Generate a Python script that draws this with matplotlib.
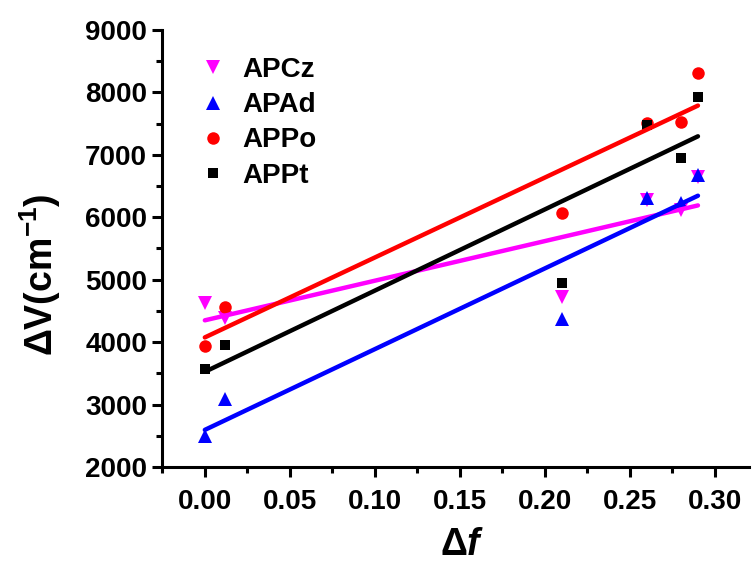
import matplotlib
matplotlib.use('Agg')
import matplotlib.pyplot as plt
import numpy as np
from matplotlib.ticker import MultipleLocator, FormatStrFormatter

plt.rcParams['font.family'] = 'Liberation Sans'
plt.rcParams['font.weight'] = 'bold'
plt.rcParams['mathtext.fontset'] = 'custom'
plt.rcParams['mathtext.rm'] = 'Liberation Sans:bold'
plt.rcParams['mathtext.bf'] = 'Liberation Sans:bold'
plt.rcParams['mathtext.it'] = 'Liberation Sans:bold:italic'

# data
delta_f = [0.0, 0.012, 0.21, 0.26, 0.28, 0.29]
apcz = [4620, 4387, 4730, 6270, 6117, 6645]
apad = [2490, 3090, 4370, 6310, 6230, 6680]
appo = [3940, 4563, 6069, 7510, 7526, 8311]
appt = [3570, 3955, 4947, 7480, 6950, 7926]

series = [
    ("APCz", apcz, 'v', '#ff00ff', 10),
    ("APAd", apad, '^', '#0000ff', 10),
    ("APPo", appo, 'o', '#ff0000', 9),
    ("APPt", appt, 's', 'black', 7.5),
]

fig = plt.figure(figsize=(7.55, 5.64), dpi=100)
ax = fig.add_axes([0.215, 0.172, 0.777, 0.775])

x = np.array(delta_f)
for name, y, m, c, ms in series:
    ax.plot(x, y, linestyle='none', marker=m, color=c, markersize=ms,
            markeredgewidth=0, label=name)

# linear fits
for name, y, m, c, ms in series:
    k, b = np.polyfit(x, y, 1)
    xx = np.array([x.min(), x.max()])
    ax.plot(xx, k * xx + b, color=c, linewidth=3.2, solid_capstyle='round')

ax.set_xlim(-0.025, 0.32)
ax.set_ylim(2000, 9000)
ax.xaxis.set_major_locator(MultipleLocator(0.05))
ax.xaxis.set_minor_locator(MultipleLocator(0.025))
ax.yaxis.set_major_locator(MultipleLocator(1000))
ax.yaxis.set_minor_locator(MultipleLocator(500))
ax.xaxis.set_major_formatter(FormatStrFormatter('%.2f'))

for s in ['top', 'right']:
    ax.spines[s].set_visible(False)
for s in ['left', 'bottom']:
    ax.spines[s].set_linewidth(2.2)

ax.tick_params(which='major', length=7, width=2.2, labelsize=20)
ax.tick_params(axis='x', which='major', pad=9)
ax.tick_params(axis='y', which='major', pad=4)
ax.tick_params(which='minor', length=4, width=2.2)

fig.text(40 / 755, 1 - 275 / 564, r'ΔV(cm$^{\mathbf{-1}}$)', fontsize=27,
         fontweight='bold', rotation=90, ha='center', va='center')
fig.text(462 / 755, 1 - 545 / 564, r'Δ$\mathit{f}$', fontsize=27,
         fontweight='bold', ha='center', va='center')

ax.legend(loc='upper left', bbox_to_anchor=(0.02, 0.995), frameon=False,
          handlelength=1.0, handletextpad=0.55, labelspacing=0.33,
          prop={'weight': 'bold', 'size': 20})

fig.savefig('out.png', dpi=100)
